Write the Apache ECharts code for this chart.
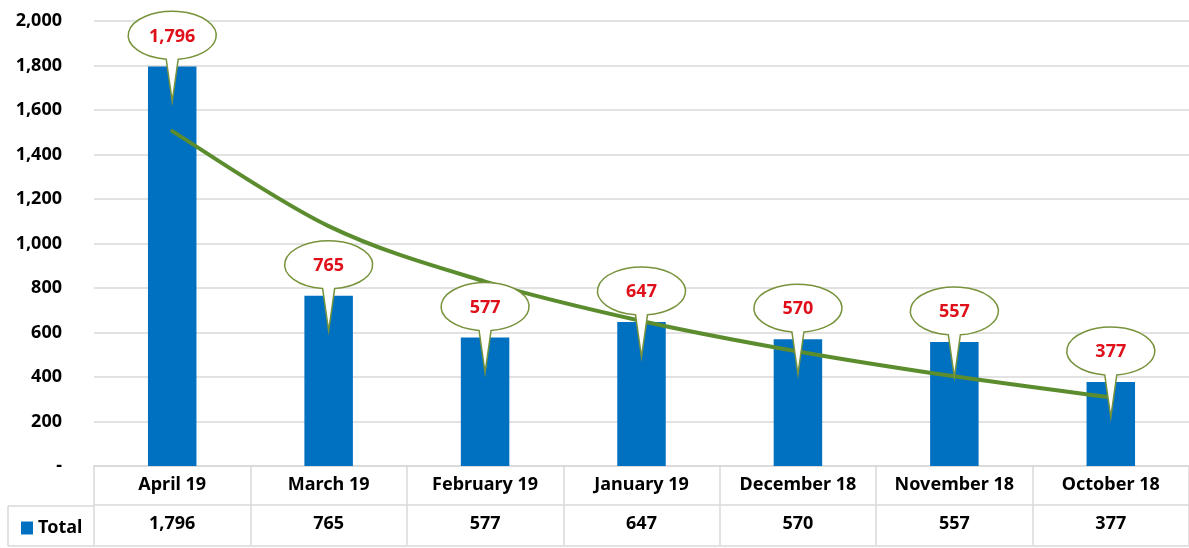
<!DOCTYPE html>
<html>
<head>
<meta charset="utf-8">
<script src="https://cdn.jsdelivr.net/npm/echarts@6/dist/echarts.min.js"></script>
<style>
html,body{margin:0;padding:0;background:#fff;}
#chart{width:1189px;height:548px;}
</style>
</head>
<body>
<div id="chart"></div>
<script>
const categories = ['April 19','March 19','February 19','January 19','December 18','November 18','October 18'];
const totals = [1796, 765, 577, 647, 570, 557, 377];
const trendValues = [1505, 1078, 829, 652, 515, 403, 308];
const yMin = 0, yMax = 2000, yStep = 200;

const fmt = v => v === 0 ? '-' : v.toLocaleString('en-US');
const FONT = '"Noto Sans"';
const GRID_C = '#d9d9d9';

const chart = echarts.init(document.getElementById('chart'), null, {renderer:'canvas'});

function renderCallout(params, api) {
  const idx = api.value(0), val = api.value(1);
  const p = api.coord([idx, val]);
  const cx = p[0], cy = p[1] - 31;
  const rx = 44, ry = 24, hw = 6;
  const yb = cy + ry * Math.sqrt(1 - (hw / rx) * (hw / rx));
  const tipY = p[1] + 35;
  const d = 'M' + (cx - hw) + ' ' + yb +
            ' A' + rx + ' ' + ry + ' 0 1 1 ' + (cx + hw) + ' ' + yb +
            ' L' + cx + ' ' + tipY + ' Z';
  return {
    type: 'group',
    children: [
      { type: 'path', shape: { pathData: d },
        style: { fill: '#ffffff', stroke: '#77933C', lineWidth: 1.5 } },
      { type: 'text', x: cx, y: cy + 1,
        style: { text: fmt(val), fill: '#E0101A', font: 'bold 18px ' + FONT,
                 align: 'center', verticalAlign: 'middle' } }
    ]
  };
}

// Smooth trend curve (Catmull-Rom through the trend values, positioned by the axes)
function renderTrend(params, api) {
  if (params.dataIndex !== 0) return null;
  const pts = trendValues.map((v, i) => api.coord([i, v]));
  const n = pts.length;
  let d = 'M' + pts[0][0] + ' ' + pts[0][1];
  for (let i = 0; i < n - 1; i++) {
    const p0 = pts[Math.max(0, i - 1)], p1 = pts[i], p2 = pts[i + 1], p3 = pts[Math.min(n - 1, i + 2)];
    const c1 = [p1[0] + (p2[0] - p0[0]) / 6, p1[1] + (p2[1] - p0[1]) / 6];
    const c2 = [p2[0] - (p3[0] - p1[0]) / 6, p2[1] - (p3[1] - p1[1]) / 6];
    d += ' C' + c1[0] + ' ' + c1[1] + ' ' + c2[0] + ' ' + c2[1] + ' ' + p2[0] + ' ' + p2[1];
  }
  return { type: 'path', shape: { pathData: d },
           style: { fill: null, stroke: '#5B8C2E', lineWidth: 4, lineCap: 'round' } };
}

const labelStyle = { fontFamily: FONT, fontWeight: 'bold', fontSize: 18, color: '#000' };

chart.setOption({
  animation: false,
  grid: { left: 94, right: -6, top: 21, bottom: 82, containLabel: false },
  legend: {
    data: ['Total'], left: 16, top: 514, icon: 'rect', itemWidth: 12, itemHeight: 13,
    itemGap: 4, textStyle: labelStyle, selectedMode: false
  },
  xAxis: [
    { type: 'category', data: categories, position: 'bottom',
      axisLine: { lineStyle: { color: GRID_C, width: 1.5 } },
      axisTick: { show: true, interval: 0, length: 39, lineStyle: { color: GRID_C, width: 1.5 } },
      axisLabel: Object.assign({ interval: 0, margin: 10 }, labelStyle) },
    { type: 'category', data: totals.map(fmt), position: 'bottom', offset: 39,
      axisLine: { lineStyle: { color: GRID_C, width: 1.5 } },
      axisTick: { show: true, interval: 0, length: 40, lineStyle: { color: GRID_C, width: 1.5 } },
      axisLabel: Object.assign({ interval: 0, margin: 10 }, labelStyle) }
  ],
  yAxis: {
    type: 'value', min: yMin, max: yMax, interval: yStep,
    axisLine: { show: false }, axisTick: { show: false },
    splitLine: { lineStyle: { color: GRID_C, width: 1.5 } },
    axisLabel: Object.assign({ margin: 32, formatter: v => fmt(v) }, labelStyle)
  },
  graphic: [
    { type: 'line', shape: { x1: 8, y1: 506, x2: 94, y2: 506 }, style: { stroke: GRID_C, lineWidth: 1.5 } },
    { type: 'line', shape: { x1: 8, y1: 546, x2: 1189, y2: 546 }, style: { stroke: GRID_C, lineWidth: 1.5 } },
    { type: 'line', shape: { x1: 8, y1: 506, x2: 8, y2: 546 }, style: { stroke: GRID_C, lineWidth: 1.5 } }
  ],
  series: [
    { name: 'Total', type: 'bar', data: totals, barWidth: '31%',
      itemStyle: { color: '#0070C0' }, z: 2 },
    { name: 'Trend', type: 'custom', data: trendValues.map((v, i) => [i, v]),
      renderItem: renderTrend, z: 3 },
    { name: 'Callouts', type: 'custom', data: totals.map((v, i) => [i, v]),
      renderItem: renderCallout, z: 5 }
  ]
});
</script>
</body>
</html>
